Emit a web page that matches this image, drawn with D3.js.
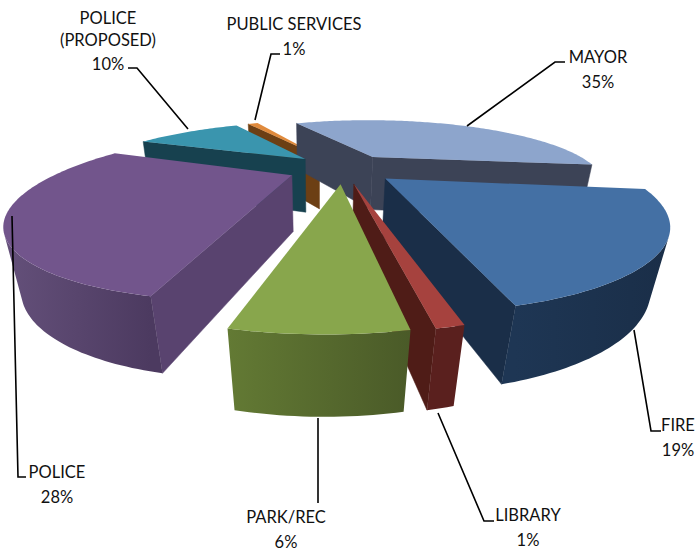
<!DOCTYPE html>
<html><head><meta charset="utf-8">
<script src="https://cdn.jsdelivr.net/npm/d3@7"></script>
<style>html,body{margin:0;background:#fff}text{font-family:Lato,"Open Sans",sans-serif;font-size:16.5px;fill:#111;text-anchor:middle}</style>
</head><body><svg id="c" width="700" height="550"></svg>
<script>
const categories = ["MAYOR","FIRE","LIBRARY","PARK/REC","POLICE","POLICE (PROPOSED)","PUBLIC SERVICES"];
const values = [35,19,1,6,28,10,1];
const topColors = ["#8da5cc","#4470a4","#a6423e","#88a64c","#72558c","#3a95ae","#e08a3c"];
const sideColors = ["#3c4356","#1a2e48","#4f1c17","#4a5a28","#59436f","#17414f","#6c3f14"];
const rimStart = ["#3c4356","#1a2e48","#5a201e","#4a5a28","#4c3a60","#17414f","#6c3f14"];
const rimEnd = ["#3c4356","#1e3654","#5a201e","#637a34","#64507a","#17414f","#6c3f14"];
const labelLines = [["MAYOR"],["FIRE"],["LIBRARY"],["PARK/REC"],["POLICE"],["POLICE","(PROPOSED)"],["PUBLIC SERVICES"]];
const labelCenters = [[598,63],[678,431],[528,521],[286,523],[57,478],[108,24],[294,30]];
const leaders = [
 [[467,126],[555,62],[565,62]],
 [[634,330],[651,431],[661,431]],
 [[438,413],[484,521],[494,521]],
 [[318,418],[318,503]],
 [[12,216],[18,477],[26,477]],
 [[188,129],[137,68],[128,68]],
 [[255,120],[271,54],[280,54]]
];
const rad = d3.scaleLinear().domain([0,360]).range([0,2*Math.PI]);
const cam = {cx:343,cy:168,S:226,skew:-6,ST:61,p:0.44,nx:320,ny:1400,h:-58,k:0.000197,explode:0.24};
function project(X,Y,Z){
  const w=1-cam.p*Y;
  let x=cam.cx+(cam.S*X+cam.skew*Y)/w, y=cam.cy+cam.ST*Y/w;
  const t=cam.k*(y-cam.h)*Z;
  return [x+(cam.nx-x)*t, y+(cam.ny-y)*t];
}
const pie=d3.pie().value(d=>d).sort(null).startAngle(rad(-28)).endAngle(rad(332));
const arcs=pie(values).map((a,i)=>({...a,i,mid:(a.startAngle+a.endAngle)/2}));
const svg=d3.select("#c");
const defs=svg.append("defs");
const line=d3.line();
const closed=pts=>line(pts)+"Z";
const order=arcs.slice().sort((a,b)=>-Math.cos(a.mid)- -Math.cos(b.mid));
const sgn=pts=>Math.sign(d3.polygonArea(pts));
order.forEach(a=>{
  const ox=cam.explode*Math.sin(a.mid), oy=-cam.explode*Math.cos(a.mid);
  const rim=(th,Z)=>project(ox+Math.sin(th),oy-Math.cos(th),Z);
  const apex=Z=>project(ox,oy,Z);
  const steps=Math.max(4,Math.ceil((a.endAngle-a.startAngle)/rad(1)));
  const ths=d3.range(steps+1).map(j=>a.startAngle+(a.endAngle-a.startAngle)*j/steps);
  const top=[apex(0),...ths.map(t=>rim(t,0))];
  const s=sgn(top);
  const g=svg.append("g").attr("class","slice");
  const faces=q=>sgn(q)!==s&&sgn(q)!==0;
  const wall=(q,c)=>{
    if(!faces(q)) return;
    g.append("path").attr("d",closed(q)).attr("fill",c).attr("stroke",c).attr("stroke-width",0.5);
  };
  wall([apex(0),rim(a.startAngle,0),rim(a.startAngle,1),apex(1)],sideColors[a.i]);
  wall([rim(a.endAngle,0),apex(0),apex(1),rim(a.endAngle,1)],sideColors[a.i]);
  const vis=d3.pairs(ths).filter(([t0,t1])=>faces([rim(t0,0),rim(t1,0),rim(t1,1),rim(t0,1)]));
  if(vis.length){
    const t0=vis[0][0], t1=vis[vis.length-1][1];
    const tv=[t0,...vis.map(v=>v[1])];
    const id="rim"+a.i;
    const grad=defs.append("linearGradient").attr("id",id).attr("gradientUnits","userSpaceOnUse")
      .attr("x1",rim(t0,0)[0]).attr("y1",0).attr("x2",rim(t1,0)[0]).attr("y2",0);
    grad.append("stop").attr("offset",0).attr("stop-color",rimStart[a.i]);
    grad.append("stop").attr("offset",1).attr("stop-color",rimEnd[a.i]);
    const poly=[...tv.map(t=>rim(t,0)),...tv.slice().reverse().map(t=>rim(t,1))];
    g.append("path").attr("d",closed(poly)).attr("fill",`url(#${id})`);
  }
  g.append("path").attr("d",closed(top)).attr("fill",topColors[a.i]);
});
leaders.forEach(l=>svg.append("path").attr("d",line(l)).attr("fill","none").attr("stroke","#000").attr("stroke-width",1.6));
categories.forEach((c,i)=>{
  const [x,y]=labelCenters[i];
  const t=svg.append("text").attr("x",x).attr("y",y);
  labelLines[i].forEach((s,j)=>t.append("tspan").attr("x",x).attr("dy",j?21.5:0).text(s));
  t.append("tspan").attr("x",x).attr("dy",24.5).text(values[i]+"%");
});
</script></body></html>
